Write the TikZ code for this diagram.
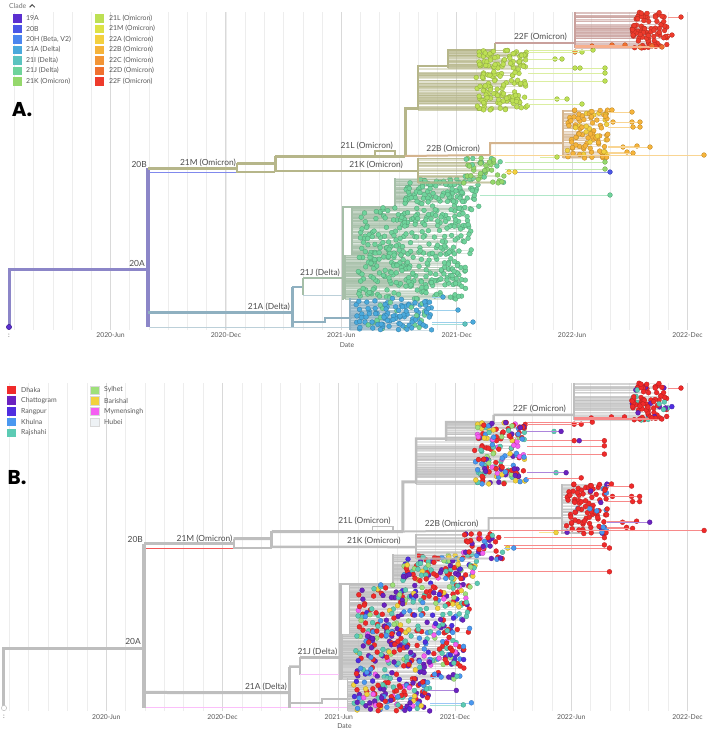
\documentclass[tikz,border=0pt]{standalone}
\usepackage{fontspec}
\setmainfont{Lato}
\newfontfamily\panelfont{Poppins}
\usetikzlibrary{positioning}
% clade colours
\definecolor{c19A}{HTML}{5B2FD0}
\definecolor{c20B}{HTML}{4A56E6}
\definecolor{c20H}{HTML}{4B86EF}
\definecolor{c21A}{HTML}{4AA9DC}
\definecolor{c21I}{HTML}{5BC3BF}
\definecolor{c21J}{HTML}{6FD39B}
\definecolor{c21K}{HTML}{95D86C}
\definecolor{c21L}{HTML}{BDE054}
\definecolor{c21M}{HTML}{DDE246}
\definecolor{c22A}{HTML}{F3D03F}
\definecolor{c22B}{HTML}{F5B33A}
\definecolor{c22C}{HTML}{F39536}
\definecolor{c22D}{HTML}{F0702F}
\definecolor{c22F}{HTML}{EE3B2C}
% branch colours
\definecolor{b20A}{HTML}{8C86C8}
\definecolor{b21A}{HTML}{8FB0C0}
\definecolor{b21J}{HTML}{A6BFA8}
\definecolor{b20B}{HTML}{B6B68A}
\definecolor{b22F}{HTML}{C9A09C}
\definecolor{b22B}{HTML}{D4B48E}
\definecolor{treegrey}{HTML}{BEBEBE}
% region colours
\definecolor{dhaka}{HTML}{F02A2A}
\definecolor{chatto}{HTML}{6A22C0}
\definecolor{rangpur}{HTML}{4F2EE0}
\definecolor{khulna}{HTML}{4A98F0}
\definecolor{rajshahi}{HTML}{5CCBB4}
\definecolor{sylhet}{HTML}{9EE07A}
\definecolor{barishal}{HTML}{F2D23C}
\definecolor{mymen}{HTML}{F55FF2}
\definecolor{hubei}{HTML}{EEF2F5}
\pgfmathdeclarerandomlist{A21J}{{c21J}}
\pgfmathdeclarerandomlist{A21A}{{c21A}{c21A}{c21A}{c21A}{c21A}{c21J}}
\pgfmathdeclarerandomlist{A21K}{{c21K}{c21K}{c21K}{c21J}}
\pgfmathdeclarerandomlist{A21L}{{c21L}}
\pgfmathdeclarerandomlist{A22F}{{c22F}}
\pgfmathdeclarerandomlist{A22B}{{c22B}{c22B}{c22B}{c22A}}
\pgfmathdeclarerandomlist{B21J}{{dhaka}{dhaka}{dhaka}{dhaka}{chatto}{chatto}{chatto}{rangpur}{khulna}{khulna}{rajshahi}{rajshahi}{rajshahi}{sylhet}{barishal}{mymen}}
\pgfmathdeclarerandomlist{B21A}{{dhaka}{dhaka}{dhaka}{chatto}{chatto}{chatto}{rangpur}{khulna}{khulna}{rajshahi}{rajshahi}{barishal}{mymen}}
\pgfmathdeclarerandomlist{B21K}{{dhaka}{dhaka}{dhaka}{dhaka}{khulna}{chatto}{rajshahi}{mymen}}
\pgfmathdeclarerandomlist{B21L}{{dhaka}{dhaka}{dhaka}{dhaka}{chatto}{chatto}{khulna}{khulna}{rajshahi}{rajshahi}{barishal}{sylhet}{mymen}}
\pgfmathdeclarerandomlist{B22F}{{dhaka}{dhaka}{dhaka}{dhaka}{dhaka}{dhaka}{dhaka}{chatto}{rajshahi}}
\pgfmathdeclarerandomlist{B22B}{{dhaka}{dhaka}{dhaka}{dhaka}{dhaka}{dhaka}{dhaka}{dhaka}{chatto}{khulna}}
\tikzset{%
	gridline/.style  = {draw=black!7, line width=0.6},
	gridmajor/.style = {draw=black!15, line width=0.9},
	datelab/.style   = {text=black!65, font=\fontsize{6.8}{8}\selectfont, inner sep=0},
	cladelab/.style  = {text=black!70, font=\fontsize{8.4}{9}\selectfont, inner sep=0, anchor=east},
	legtext/.style   = {text=black!65, font=\fontsize{6.9}{8}\selectfont, inner sep=0, anchor=west},
	legbox/.style    = {minimum width=9, minimum height=8.5, inner sep=0},
	panellab/.style  = {font=\panelfont\bfseries\fontsize{20}{22}\selectfont, inner sep=0},
	twig/.style      = {line width=0.35, draw opacity=0.4},
}
% one sub-tree: seed, tips, stem x, tip x range, tip y range, branch style, colour list
\newcommand{\clade}[9]{%
	\draw[#8, line width=1.5] (#3,#6) -- (#3,#7);
	\pgfmathsetseed{#1}%
	\foreach \k in {1,...,#2}{%
		\pgfmathsetmacro{\px}{#4+rnd*(#5-#4)}%
		\pgfmathsetmacro{\py}{#6+rnd*(#7-#6)}%
		\pgfmathrandomitem{\dc}{#9}%
		\draw[#8, twig] (#3,\py) -- (\px,\py);
	}
	\pgfmathsetseed{#1}%
	\foreach \k in {1,...,#2}{%
		\pgfmathsetmacro{\px}{#4+rnd*(#5-#4)}%
		\pgfmathsetmacro{\py}{#6+rnd*(#7-#6)}%
		\pgfmathrandomitem{\dc}{#9}%
		\filldraw[fill=\dc, draw=\dc!75!black, line width=0.3] (\px,\py) circle (2.4);
	}
}
% a lone tip: from x, to x, y, colour in A, colour in B
\newcommand{\outlier}[5]{%
	\if A\pal\def\oc{#4}\else\def\oc{#5}\fi
	\draw[\oc!55!white, line width=0.5] (#1,#3) -- (#2,#3);
	\filldraw[fill=\oc, draw=\oc!75!black, line width=0.3] (#2,#3) circle (2.4);
}
\newcommand{\panelbody}{%
	\foreach \m in {0,...,35}{%
		\draw[gridline] (14.4+\m*19.23,12) -- (14.4+\m*19.23,330);
	}
	\foreach \m/\lab in {5/2020-Jun,11/2020-Dec,17/2021-Jun,23/2021-Dec,29/2022-Jun,35/2022-Dec}{%
		\draw[gridmajor] (14.4+\m*19.23,12) -- (14.4+\m*19.23,330);
		\node[datelab] (date\m) at (14.4+\m*19.23,335.5) {\lab};
	}
	\node[datelab] (date0) at (9,335.5) {:};
	\node[datelab] (axis) at (347,345) {Date};
	%
	\coordinate (root) at (9,327);
	\coordinate (n20A) at (148,269);
	\coordinate (n20B) at (148,168);
	\coordinate (n20Aend) at (148,327);
	\coordinate (n21A) at (292,312);
	\coordinate (n21J) at (303,287);
	\coordinate (n21M) at (237,168);
	\coordinate (n21Mb) at (275,163);
	\coordinate (n21L) at (405,156);
	\coordinate (n21K) at (418,171);
	\coordinate (n22B) at (490,155);
	\coordinate (n22F) at (495,43);
	%
	\draw[br20A, line width=3] (root) |- (n20A);
	\draw[br20A, line width=4] (n20B) -- (n20Aend);
	\draw[thin20B, line width=0.8] (150,172) -- (237,172);
	\draw[br20B, line width=3] (n20B) -- (n21M);
	\draw[br20B, line width=2] (237,163) -- (237,172) -- (275,172);
	\draw[br20B, line width=3] (237,163) -- (n21Mb);
	\draw[br20B, line width=3] (275,156) -- (275,172);
	\draw[br20B, line width=3] (275,156) -- (n21L);
	\draw[br20B, line width=2.5] (275,171) -- (n21K);
	\draw[br20B, line width=1.5] (375,156) |- (395,151) -- (395,156);
	% Delta
	\draw[br21A, line width=3] (148,312) -- (n21A);
	\draw[thin21A, line width=1] (150,327) -- (352,327);
	\draw[br21A, line width=3] (292,287) -- (292,327);
	\draw[br21A, line width=2.5] (292,287) -- (n21J);
	\draw[br21J, line width=2.5] (303,278) -- (303,295);
	\draw[br21J, line width=2.5] (303,278) -- (343,278);
	\draw[thin21A, line width=1] (303,295) -- (343,295);
	\draw[br21A, line width=2] (292,322) -- (325,322) -- (325,318) -- (352,318);
	\draw[br21J, line width=2.5] (343,300) -- (343,207) -| (395,180);
	\clade{11}{100}{395}{405}{480}{178}{207}{br21J}{\pal21J}
	\clade{12}{190}{352}{360}{472}{207}{255}{br21J}{\pal21J}
	\clade{13}{175}{345}{358}{466}{255}{299}{br21J}{\pal21J}
	\clade{14}{115}{350}{356}{432}{298}{330}{br21A}{\pal21A}
	\outlier{480}{610}{195}{c21J}{dhaka}
	\outlier{432}{443}{297}{c21A}{khulna}
	\outlier{432}{458}{310}{c21A}{chatto}
	\outlier{432}{473}{322}{c21A}{khulna}
	\outlier{432}{465}{324}{c21I}{rajshahi}
	% Omicron
	\draw[br20B, line width=3] (n21L) -- (405,108) -- (418,108);
	\draw[br20B, line width=2.5] (418,108) -- (418,66) -- (448,66) -- (448,50) -- (495,50) -- (n22F);
	\draw[br22F, line width=2.5] (n22F) -- (575,43);
	\draw[br22B, line width=2] (n21L) -- (n22B) -- (490,143) -- (563,143);
	\draw[br20B, line width=1.5] (n21K) -- (418,160);
	\clade{15}{42}{418}{463}{505}{158}{183}{br20B}{\pal21K}
	\clade{16}{105}{418}{476}{528}{68}{110}{br20B}{\pal21L}
	\clade{17}{60}{448}{478}{528}{50}{68}{br20B}{\pal21L}
	\clade{18}{85}{575}{632}{668}{12}{48}{br22F}{\pal22F}
	\clade{19}{100}{563}{567}{608}{110}{158}{br22B}{\pal22B}
	\outlier{505}{605}{162}{c21K}{dhaka}
	\outlier{505}{605}{169}{c21K}{dhaka}
	\outlier{512}{610}{172}{c20B}{dhaka}
	\outlier{505}{509}{172}{c22A}{barishal}
	\outlier{505}{515}{172}{c22A}{khulna}
	\outlier{528}{605}{68}{c21L}{dhaka}
	\outlier{528}{580}{68}{c21L}{chatto}
	\outlier{528}{575}{68}{c21L}{dhaka}
	\outlier{528}{605}{73}{c21L}{dhaka}
	\outlier{528}{605}{81}{c21L}{dhaka}
	\outlier{528}{557}{99}{c21L}{rajshahi}
	\outlier{528}{567}{99}{c21L}{chatto}
	\outlier{528}{582}{104}{c21L}{dhaka}
	\outlier{528}{555}{59}{c21L}{rajshahi}
	\outlier{528}{562}{59}{c21L}{chatto}
	\outlier{528}{575}{52}{c22C}{dhaka}
	\outlier{528}{582}{52}{c21L}{dhaka}
	\outlier{528}{593}{50}{c21L}{dhaka}
	\outlier{575}{592}{46}{c22D}{dhaka}
	\outlier{575}{612}{45}{c22D}{dhaka}
	\outlier{575}{625}{45}{c22D}{dhaka}
	\outlier{575}{640}{47}{c22D}{dhaka}
	\outlier{575}{652}{46}{c22D}{dhaka}
	\outlier{575}{662}{47}{c22D}{dhaka}
	\outlier{668}{681}{17}{c22F}{dhaka}
	\outlier{668}{672}{35}{c22F}{rangpur}
	\outlier{608}{612}{110}{c22B}{dhaka}
	\outlier{608}{632}{112}{c22B}{dhaka}
	\outlier{608}{613}{122}{c22B}{dhaka}
	\outlier{608}{632}{122}{c22B}{dhaka}
	\outlier{608}{640}{122}{c22B}{dhaka}
	\outlier{608}{640}{127}{c22B}{dhaka}
	\outlier{608}{633}{127}{c22B}{dhaka}
	\outlier{608}{623}{147}{c22B}{dhaka}
	\outlier{608}{637}{146}{c22B}{dhaka}
	\outlier{608}{650}{147}{c22B}{chatto}
	\outlier{608}{627}{152}{c22B}{dhaka}
	\outlier{608}{633}{153}{c22B}{dhaka}
	\outlier{490}{704}{155}{c22B}{dhaka}
	\outlier{540}{557}{157}{c21L}{barishal}
	\filldraw[rootdot, line width=0.5] (root) circle (2.6);
	%
	\node[cladelab] (l20A) at (145,263) {20A};
	\node[cladelab] (l20B) at (147,164) {20B};
	\node[cladelab] (l21M) at (236,163) {21M (Omicron)};
	\node[cladelab] (l21A) at (290,307) {21A (Delta)};
	\node[cladelab] (l21J) at (340,273) {21J (Delta)};
	\node[cladelab] (l21L) at (393,146) {21L (Omicron)};
	\node[cladelab] (l21K) at (403,165) {21K (Omicron)};
	\node[cladelab] (l22B) at (480,149) {22B (Omicron)};
	\node[cladelab] (l22F) at (567,37) {22F (Omicron)};
}

\begin{document}
\begin{tikzpicture}[x=1pt,y=-1pt]
\useasboundingbox (0,0) rectangle (709,729);
% A: coloured by clade
\begin{scope}[name prefix=a-,
	br20A/.style={draw=b20A}, br21A/.style={draw=b21A}, br21J/.style={draw=b21J},
	br20B/.style={draw=b20B}, br22F/.style={draw=b22F}, br22B/.style={draw=b22B},
	thin20B/.style={draw=c20B!70!white}, thin21A/.style={draw=b21A!60!white},
	rootdot/.style={fill=c19A, draw=c19A!70!black}]
	\def\pal{A}
	\panelbody
\end{scope}
% B: coloured by division
\begin{scope}[name prefix=b-, shift={(-5.08,370.5)}, xscale=1.0074, yscale=1.032,
	br20A/.style={draw=treegrey}, br21A/.style={draw=treegrey}, br21J/.style={draw=treegrey},
	br20B/.style={draw=treegrey}, br22F/.style={draw=treegrey}, br22B/.style={draw=treegrey},
	thin20B/.style={draw=dhaka!80!white}, thin21A/.style={draw=mymen!40!white},
	rootdot/.style={fill=white, draw=treegrey}]
	\def\pal{B}
	\panelbody
\end{scope}
% legends
\node[legtext, text=black!55] (cladehead) at (9,6) {Clade};
\draw[black!70, line width=0.9] ([xshift=3]cladehead.east) ++(0,1.3) -- ++(2.6,-2.6) -- ++(2.6,2.6);
\foreach \lab/\col [count=\i from 0] in {19A/c19A, 20B/c20B, {20H (Beta, V2)}/c20H, 21A (Delta)/c21A, 21I (Delta)/c21I, 21J (Delta)/c21J, 21K (Omicron)/c21K}{
	\node[legbox, fill=\col] (lga\i) at (17,18.3+\i*10.5) {};
	\node[legtext] (lta\i) at (26,18.3+\i*10.5) {\lab};
}
\foreach \lab/\col [count=\i from 0] in {21L (Omicron)/c21L, 21M (Omicron)/c21M, 22A (Omicron)/c22A, 22B (Omicron)/c22B, 22C (Omicron)/c22C, 22D (Omicron)/c22D, 22F (Omicron)/c22F}{
	\node[legbox, fill=\col] (lgb\i) at (99.5,18.3+\i*10.5) {};
	\node[legtext] (ltb\i) at (109,18.3+\i*10.5) {\lab};
}
\foreach \lab/\col [count=\i from 0] in {Dhaka/dhaka, Chattogram/chatto, Rangpur/rangpur, Khulna/khulna, Rajshahi/rajshahi}{
	\node[legbox, fill=\col] (lgc\i) at (11.5,390+\i*10.7) {};
	\node[legtext] (ltc\i) at (21,390+\i*10.7) {\lab};
}
\foreach \lab/\col [count=\i from 0] in {Sylhet/sylhet, Barishal/barishal, Mymensingh/mymen, Hubei/hubei}{
	\node[legbox, fill=\col, draw=black!15] (lgd\i) at (94.5,390+\i*10.7) {};
	\node[legtext] (ltd\i) at (104,390+\i*10.7) {\lab};
}
\node[panellab] (pa) at (22,110) {A.};
\node[panellab] (pb) at (17,478) {B.};
\end{tikzpicture}
\end{document}
